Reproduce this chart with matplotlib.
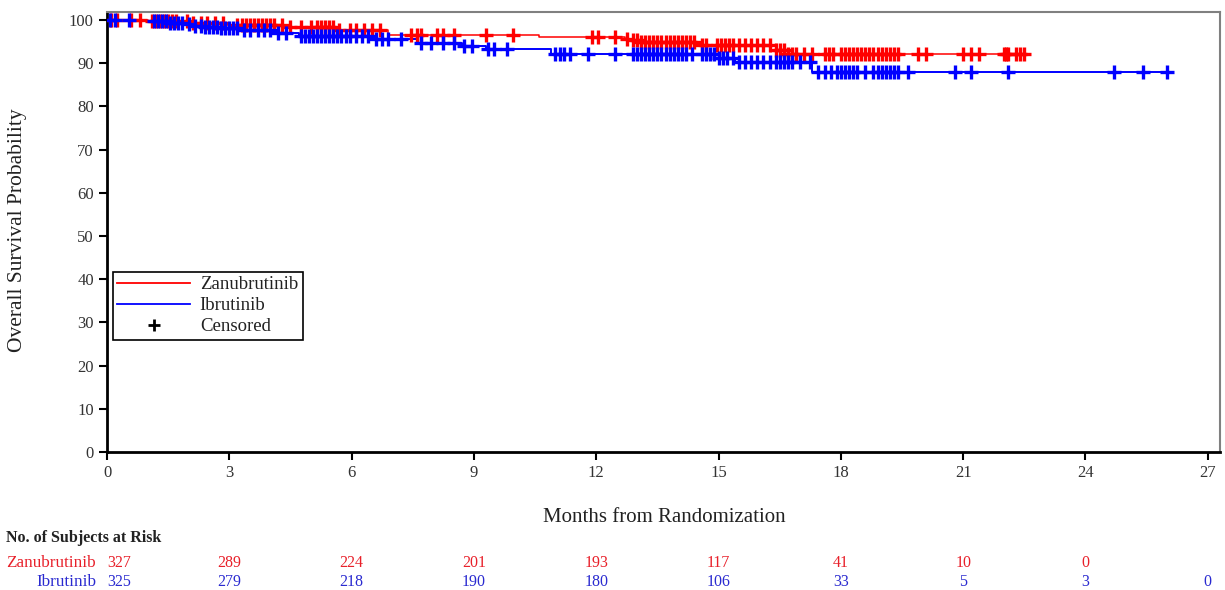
import numpy as np
import matplotlib
matplotlib.use("Agg")
import matplotlib.pyplot as plt
from matplotlib.lines import Line2D
import matplotlib.transforms as mtransforms

plt.rcParams['font.family'] = ['Liberation Serif', 'DejaVu Serif']

# Step drops (months, survival % after the drop)
zanu_t = [1.0, 2.0, 2.9, 4.4, 5.7, 6.9, 10.6, 12.7, 12.9, 13.1, 14.6, 16.4, 16.7]
zanu_s = [99.7, 99.4, 98.8, 98.4, 97.7, 96.6, 96.0, 95.6, 95.3, 95.0, 94.2, 93.0, 92.2]
zanu_end = 22.5

ibru_t = [0.7, 1.5, 1.9, 2.1, 2.4, 2.8, 3.3, 4.2, 4.7, 6.6, 7.6, 8.7, 9.3, 10.9, 15.0, 15.4, 17.3]
ibru_s = [99.7, 99.4, 99.1, 98.7, 98.4, 98.1, 97.7, 96.9, 96.2, 95.6, 94.7, 93.9, 93.3, 92.2, 91.2, 90.3, 88.0]
ibru_end = 26.0

# Censoring times (months)
zanu_cens = [0.1, 0.25, 0.6, 0.8, 1.1, 1.2, 1.3, 1.4, 1.5, 1.6, 1.7, 1.95, 2.1, 2.3, 2.45,
             2.65, 2.85, 3.2, 3.3, 3.4, 3.5, 3.6, 3.7, 3.8, 3.9, 4.0, 4.1, 4.3, 4.5, 4.75,
             5.0, 5.15, 5.25, 5.35, 5.45, 5.55, 5.7, 5.95, 6.1, 6.3, 6.5, 6.7, 7.45, 7.6,
             7.7, 8.1, 8.25, 8.5, 9.3, 9.96, 11.9, 12.05, 12.45, 12.75, 12.9, 13.0, 13.1,
             13.2, 13.3, 13.4, 13.5, 13.6, 13.7, 13.8, 13.9, 14.0, 14.1, 14.2, 14.3, 14.4,
             14.6, 14.7, 14.95, 15.05, 15.15, 15.25, 15.35, 15.5, 15.65, 15.8, 15.95, 16.1,
             16.25, 16.4, 16.5, 16.6, 16.7, 16.8, 16.9, 17.1, 17.3, 17.6, 17.7, 17.8, 18.0,
             18.1, 18.2, 18.3, 18.4, 18.5, 18.6, 18.7, 18.8, 18.9, 19.0, 19.1, 19.2, 19.3,
             19.4, 19.9, 20.1, 21.0, 21.2, 21.4, 22.0, 22.05, 22.1, 22.3, 22.4, 22.5]
ibru_cens = [0.07, 0.2, 0.55, 1.15, 1.25, 1.35, 1.45, 1.55, 1.65, 1.75, 1.85, 2.0, 2.15, 2.3,
             2.4, 2.5, 2.6, 2.7, 2.8, 2.9, 3.0, 3.1, 3.2, 3.35, 3.5, 3.7, 3.85, 4.0, 4.2,
             4.4, 4.75, 4.85, 4.95, 5.05, 5.15, 5.25, 5.35, 5.45, 5.55, 5.65, 5.75, 5.85,
             5.95, 6.1, 6.25, 6.4, 6.6, 6.75, 6.9, 7.2, 7.7, 7.95, 8.25, 8.5, 8.75, 8.95,
             9.35, 9.5, 9.8, 11.0, 11.1, 11.2, 11.35, 11.8, 12.45, 12.9, 13.0, 13.1, 13.2,
             13.3, 13.4, 13.5, 13.6, 13.7, 13.8, 13.9, 14.0, 14.1, 14.2, 14.35, 14.6, 14.7,
             14.8, 14.9, 15.0, 15.1, 15.2, 15.35, 15.5, 15.65, 15.8, 15.95, 16.1, 16.25,
             16.4, 16.5, 16.6, 16.7, 16.8, 17.0, 17.25, 17.45, 17.6, 17.75, 17.9, 18.0,
             18.1, 18.2, 18.3, 18.4, 18.6, 18.8, 18.9, 19.0, 19.1, 19.2, 19.3, 19.4, 19.65,
             20.8, 21.2, 22.1, 24.7, 25.4, 26.0]

# Number at risk
risk_months = [0, 3, 6, 9, 12, 15, 18, 21, 24, 27]
zanu_risk = [327, 289, 224, 201, 193, 117, 41, 10, 0, None]
ibru_risk = [325, 279, 218, 190, 180, 106, 33, 5, 3, 0]

RED = '#ff0000'
BLUE = '#0000ff'
RED_TXT = '#e8202a'
BLUE_TXT = '#2a2ad0'


def step_xy(t, s, end):
    x = [0] + list(t) + [end]
    y = [100] + list(s) + [s[-1]]
    return x, y


def surv_at(t, s, times):
    tt = np.array(t)
    ss = np.array([100] + list(s))
    idx = np.searchsorted(tt, np.array(times), side='right')
    return ss[idx]


fig = plt.figure(figsize=(12.25, 5.9), dpi=100)
ax = fig.add_axes([107 / 1225, 1 - 452 / 590, (1220 - 107) / 1225, 440 / 590])

for t, s, end, cens, col, lw in [(zanu_t, zanu_s, zanu_end, zanu_cens, RED, 1.1),
                                 (ibru_t, ibru_s, ibru_end, ibru_cens, BLUE, 1.4)]:
    x, y = step_xy(t, s, end)
    ax.plot(x, y, drawstyle='steps-post', color=col, lw=lw, zorder=3)
    ax.plot(cens, surv_at(t, s, cens), ls='none', marker='+', ms=10, mew=2.4,
            color=col, zorder=4)

ax.set_xlim(0, 27.3)
ax.set_ylim(0, 101.85)
ax.set_xticks(np.arange(0, 28, 3))
ax.set_yticks(np.arange(0, 101, 10))
ax.tick_params(labelsize=12, labelcolor='#333333', length=6, width=1.5, direction='out')
for side in ['left', 'bottom']:
    ax.spines[side].set_linewidth(2)
    ax.spines[side].set_color('black')
for side in ['top', 'right']:
    ax.spines[side].set_linewidth(1.5)
    ax.spines[side].set_color('#808080')

fig.text(664 / 1225, 1 - 517 / 590, 'Months from Randomization', fontsize=15,
         color='#222222', ha='center', va='center')
fig.text(18 / 1225, 1 - 230 / 590, 'Overall Survival Probability', rotation=90,
         fontsize=15.5, color='#222222', ha='center', va='center')

handles = [Line2D([], [], color=RED, lw=1.3),
           Line2D([], [], color=BLUE, lw=1.3),
           Line2D([], [], color='black', ls='none', marker='+', ms=8, mew=2)]
leg = ax.legend(handles, ['Zanubrutinib', 'Ibrutinib', 'Censored'],
                loc='upper left', bbox_to_anchor=(0.005, 0.41), fontsize=13.5,
                frameon=True, fancybox=False, framealpha=1, edgecolor='black',
                borderpad=0.25, labelspacing=0.2, handlelength=3.9, handletextpad=0.5,
                borderaxespad=0)
leg.get_frame().set_linewidth(1.2)
for txt in leg.get_texts():
    txt.set_color('#222222')

# Risk table
trans = mtransforms.blended_transform_factory(ax.transData, fig.transFigure)
fig.text(6 / 1225, 1 - 538 / 590, 'No. of Subjects at Risk', fontsize=11.5,
         fontweight='bold', va='center', color='#222222')
fig.text(96 / 1225, 1 - 563 / 590, 'Zanubrutinib', fontsize=12.3, ha='right',
         va='center', color=RED_TXT)
fig.text(96 / 1225, 1 - 582 / 590, 'Ibrutinib', fontsize=12.3, ha='right',
         va='center', color=BLUE_TXT)
for m, zr, ir in zip(risk_months, zanu_risk, ibru_risk):
    xm = m + 0.3 if m == 0 else m
    if zr is not None:
        ax.text(xm, 1 - 563 / 590, str(zr), transform=trans, fontsize=11.5,
                ha='center', va='center', color=RED_TXT, clip_on=False)
    ax.text(xm, 1 - 582 / 590, str(ir), transform=trans, fontsize=11.5,
            ha='center', va='center', color=BLUE_TXT, clip_on=False)

fig.savefig('out.png', dpi=100)
